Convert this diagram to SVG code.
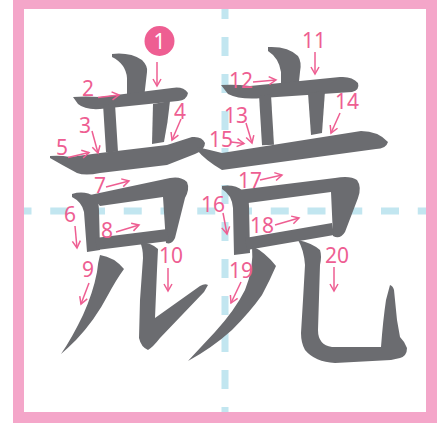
<svg xmlns="http://www.w3.org/2000/svg" width="438" height="423" viewBox="0 0 438 423">
<defs>
<style>
.stk{fill:#6b6c70}
.ln{stroke:#6b6c70;fill:none}
.guide{stroke:#c2e6f0;stroke-width:7;fill:none}
.num{font-family:"Noto Sans","Liberation Sans",sans-serif;font-size:21px;fill:#ee5e92}
.arr{stroke:#ee5e92;stroke-width:1.5;fill:none;marker-end:url(#ah)}
</style>
<marker id="ah" markerUnits="userSpaceOnUse" markerWidth="12" markerHeight="12" refX="9" refY="5" orient="auto">
<path d="M2,1 L9,5 L2,9" stroke="#ee5e92" stroke-width="1.5" fill="none"/>
</marker>
</defs>
<rect width="438" height="423" fill="#ffffff"/>
<g id="guides">
<line class="guide" x1="13.5" y1="211" x2="426" y2="211" stroke-dasharray="18 18.75"/>
<line class="guide" x1="225" y1="0" x2="225" y2="412" stroke-dasharray="19 18"/>
</g>
<rect id="frame" x="18.5" y="3.5" width="413" height="414" fill="none" stroke="#f4a6c9" stroke-width="11"/>
<g id="strokes">
<g id="s1"><path class="stk" d="M112,54 Q130,52 142,60 Q148,66 147,72 L144,98 L127,98 L127,78 Q126,64 112,57 Z"/></g>
<g id="s2"><path class="stk" d="M73,97 Q85,96 100,97 L172,88 Q183,86 188,93 Q187,100 178,101 L100,109 Q85,110 78,104 Z"/></g>
<g id="s3"><path class="ln" stroke-width="12" d="M109,104 L112,152"/></g>
<g id="s4"><path class="stk" d="M153,104 L170,101 Q168,122 164,142 L152,144 Z"/></g>
<g id="s5"><path class="stk" d="M50,156 Q60,155 70,157 L100,153 L167,145 L192,137 Q202,136 205,143 Q205,150 195,154 L167,165 L100,173 Q85,176 77,173 Q62,165 50,158 Z"/></g>
<g id="s6"><path class="stk" d="M72,194 Q85,190 95,197 Q99,202 99,210 L100,250 L87,252 L84,212 Q82,202 72,197 Z"/></g>
<g id="s7"><path class="stk" d="M90,195 L170,178 Q181,176 187,182 Q190,189 185,198 L175,238 Q172,245 166,243 L163,197 L100,206 Z"/></g>
<g id="s8"><path class="ln" stroke-width="12" d="M96,244 L168,235"/></g>
<g id="s9"><path class="stk" d="M100,255 Q114,257 124,269 Q116,280 108,295 Q95,320 76,340 Q68,348 61,354 Q72,338 83,315 Q93,293 97,272 Q98,262 100,255 Z"/></g>
<g id="s10"><path class="stk" d="M140,242 Q152,243 158,249 L157,270 L155,318 L200,286 Q205,283 208,285 L204,292 L160,338 Q153,347 148,350 Q141,347 139,338 L140,300 L143,258 Q143,248 140,242 Z"/></g>
<g id="s11"><path class="stk" d="M268,47 Q288,46 298,56 Q302,62 300,72 L298,91 L281,91 L281,72 Q279,58 268,51 Z"/></g>
<g id="s12"><path class="stk" d="M221,85 Q235,84 250,86 L340,77 Q352,76 358,83 Q360,90 352,92 L262,98 Q240,100 228,94 Z"/></g>
<g id="s13"><path class="ln" stroke-width="12" d="M265,95 L268,145"/></g>
<g id="s14"><path class="stk" d="M308,93 L325,91 L322,133 L311,135 Z"/></g>
<g id="s15"><path class="stk" d="M197,147 Q210,150 222,153 L361,131 Q378,131 388,142 Q386,149 376,149 L222,170 Q205,160 197,150 Z"/></g>
<g id="s16"><path class="stk" d="M222,186 Q235,184 243,191 Q249,197 249,206 L250,253 L234,255 L233,208 Q232,195 222,189 Z"/></g>
<g id="s17"><path class="stk" d="M238,190 L335,178 Q350,175 357,180 Q362,187 358,198 L345,232 Q340,240 333,236 L331,192 L248,203 Z"/></g>
<g id="s18"><path class="ln" stroke-width="12" d="M246,244 L333,229"/></g>
<g id="s19"><path class="stk" d="M252,246 Q265,252 276,266 Q270,280 262,295 Q250,312 232,330 Q212,348 188,361 Q200,348 215,332 Q235,310 245,290 Q254,268 252,246 Z"/></g>
<g id="s20"><path class="stk" d="M298,240 Q312,243 320,250 Q322,256 320,265 L318,330 Q318,345 332,347 L381,347 Q383,320 386,300 L390,285 Q393,286 394,290 L397,320 L400,337 Q405,342 407,348 Q407,356 400,358 L391,360 L335,363 Q315,362 305,350 Q301,343 301,333 L303,300 L305,265 Q304,250 298,240 Z"/></g>
</g>
<g id="connectors">
<line class="arr" x1="157" y1="62" x2="157" y2="86"/>
<line class="arr" x1="98" y1="97.5" x2="119" y2="95"/>
<line class="arr" x1="92" y1="131" x2="98" y2="153"/>
<line class="arr" x1="181" y1="119" x2="172" y2="140"/>
<line class="arr" x1="68" y1="157.5" x2="89" y2="152.5"/>
<line class="arr" x1="75" y1="226" x2="77" y2="248"/>
<line class="arr" x1="106" y1="187" x2="129" y2="181"/>
<line class="arr" x1="116" y1="232" x2="139" y2="225"/>
<line class="arr" x1="89" y1="283" x2="81" y2="304"/>
<line class="arr" x1="168" y1="268" x2="168" y2="291"/>
<line class="arr" x1="315" y1="52" x2="315" y2="74"/>
<line class="arr" x1="253" y1="82" x2="276" y2="80"/>
<line class="arr" x1="246" y1="123" x2="252" y2="143"/>
<line class="arr" x1="340" y1="113" x2="331" y2="133"/>
<line class="arr" x1="231" y1="142" x2="244" y2="143.5"/>
<line class="arr" x1="223" y1="213" x2="227" y2="234"/>
<line class="arr" x1="260" y1="180" x2="282" y2="175"/>
<line class="arr" x1="275" y1="225" x2="299" y2="218"/>
<line class="arr" x1="241" y1="282" x2="231" y2="303"/>
<line class="arr" x1="334" y1="267" x2="334" y2="291"/>
</g>
<g id="labels">
<g id="n1"><circle cx="159.5" cy="41" r="15" fill="#ee5e92"/><text class="num" x="159.5" y="48.5" text-anchor="middle" fill="#ffffff" style="fill:#ffffff">1</text></g>
<text class="num" x="82" y="96">2</text>
<text class="num" x="79" y="133">3</text>
<text class="num" x="174" y="119">4</text>
<text class="num" x="56" y="155">5</text>
<text class="num" x="64" y="222">6</text>
<text class="num" x="94" y="193">7</text>
<text class="num" x="101" y="238">8</text>
<text class="num" x="82" y="277">9</text>
<text class="num" x="159" y="263">10</text>
<text class="num" x="302" y="48">11</text>
<text class="num" x="229" y="88">12</text>
<text class="num" x="224" y="123">13</text>
<text class="num" x="335" y="109">14</text>
<text class="num" x="209" y="147">15</text>
<text class="num" x="201" y="212">16</text>
<text class="num" x="238" y="188">17</text>
<text class="num" x="250" y="233">18</text>
<text class="num" x="229" y="278">19</text>
<text class="num" x="325" y="263">20</text>
</g>
</svg>
